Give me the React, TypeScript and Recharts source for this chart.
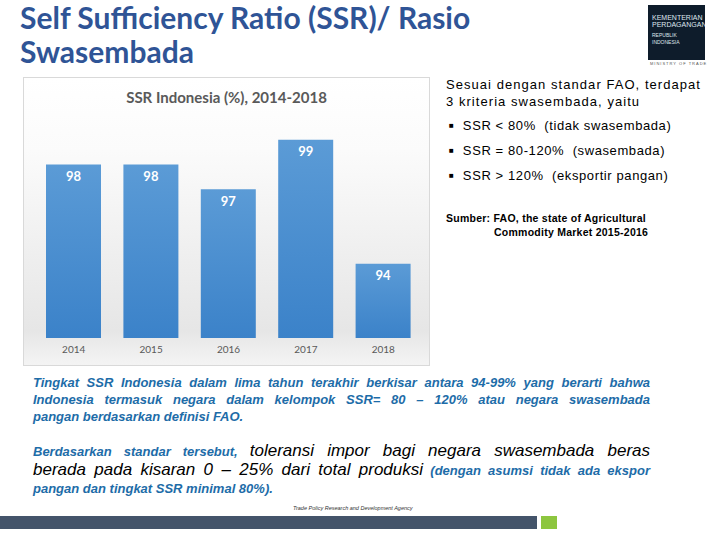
import { BarChart, Bar, XAxis, YAxis, LabelList } from "recharts";

const years = ["2014", "2015", "2016", "2017", "2018"];
const ssrValues = [98, 98, 97, 99, 94];

const criteria = [
  "SSR < 80%  (tidak swasembada)",
  "SSR = 80-120%  (swasembada)",
  "SSR > 120%  (eksportir pangan)",
];

const data = years.map((year, i) => ({ year, ssr: ssrValues[i] }));

const blue = "#1d6ca8";
const arial = "'Liberation Sans', Arial, sans-serif";
const calibri = "Lato, 'Open Sans', sans-serif";

function Line({ children, last, top, size = 13 }: any) {
  return (
    <div
      style={{
        position: "absolute",
        left: 33,
        width: 617,
        top,
        fontSize: size,
        lineHeight: "18px",
        whiteSpace: "nowrap",
        textAlign: "justify",
        textAlignLast: last ? "left" : "justify",
        fontStyle: "italic",
      }}
    >
      {children}
    </div>
  );
}

export default function App() {
  return (
    <div
      style={{
        position: "absolute",
        left: 0,
        top: 0,
        width: 720,
        height: 540,
        background: "#fff",
        overflow: "hidden",
        fontFamily: arial,
      }}
    >
      {/* slide title */}
      <div
        style={{
          position: "absolute",
          left: 20,
          top: 0,
          fontFamily: calibri,
          fontWeight: 700,
          fontSize: 30,
          lineHeight: "34px",
          color: "#2f5496",
        }}
      >
        Self Sufficiency Ratio (SSR)/ Rasio
        <br />
        Swasembada
      </div>

      {/* logo */}
      <div
        style={{
          position: "absolute",
          left: 648,
          top: 5,
          width: 57,
          height: 55,
          background: "#0e1c2b",
          overflow: "hidden",
          color: "#dfe6ee",
          fontSize: 7,
          lineHeight: "7px",
          paddingLeft: 4,
          paddingTop: 9,
          boxSizing: "border-box",
        }}
      >
        <div>KEMENTERIAN</div>
        <div>PERDAGANGAN</div>
        <div style={{ fontSize: 5, marginTop: 4 }}>REPUBLIK INDONESIA</div>
      </div>
      <div
        style={{
          position: "absolute",
          left: 650,
          top: 61,
          fontSize: 4,
          letterSpacing: 1,
          color: "#555",
        }}
      >
        MINISTRY OF TRADE
      </div>

      {/* chart panel */}
      <div
        style={{
          position: "absolute",
          left: 23,
          top: 77,
          width: 405,
          height: 287,
          border: "1px solid #d9d9d9",
          background:
            "linear-gradient(180deg, #ffffff 0%, #fbfbfb 25%, #ececec 70%, #e6e6e6 88%, #f4f4f4 100%)",
        }}
      >
        <div
          style={{
            position: "absolute",
            left: 0,
            width: 405,
            top: 10,
            textAlign: "center",
            fontFamily: calibri,
            fontWeight: 700,
            fontSize: 15,
            color: "#595959",
          }}
        >
          SSR Indonesia (%), 2014-2018
        </div>
        <BarChart
          width={405}
          height={287}
          data={data}
          margin={{ top: 37, right: 7, bottom: 7, left: 11 }}
        >
          <defs>
            <linearGradient id="barGrad" x1="0" y1="0" x2="0" y2="1">
              <stop offset="0%" stopColor="#5b9bd6" />
              <stop offset="100%" stopColor="#3b82c9" />
            </linearGradient>
          </defs>
          <XAxis
            dataKey="year"
            height={20}
            axisLine={false}
            tickLine={false}
            tick={{ fontSize: 10, fill: "#595959", fontFamily: calibri }}
          />
          <YAxis hide domain={[91, 100]} allowDataOverflow />
          <Bar
            dataKey="ssr"
            barSize={55}
            fill="url(#barGrad)"
            isAnimationActive={false}
          >
            <LabelList
              dataKey="ssr"
              position="insideTop"
              offset={7}
              fill="#ffffff"
              fontSize={13}
              fontWeight={700}
              fontFamily={calibri}
            />
          </Bar>
        </BarChart>
      </div>

      {/* criteria text */}
      <div
        style={{
          position: "absolute",
          left: 446,
          top: 76,
          fontSize: 13,
          lineHeight: "17px",
          color: "#000",
          letterSpacing: 1.05,
        }}
      >
        Sesuai dengan standar FAO, terdapat
        <br />3 kriteria swasembada, yaitu
      </div>
      {criteria.map((c, i) => (
        <div
          key={c}
          style={{
            position: "absolute",
            left: 449,
            top: 117 + i * 25,
            fontSize: 13,
            lineHeight: "17px",
            letterSpacing: 0.6,
            whiteSpace: "pre",
          }}
        >
          <span style={{ fontSize: 8, verticalAlign: 2 }}>■</span>
          {"  " + c}
        </div>
      ))}
      <div
        style={{
          position: "absolute",
          left: 446,
          top: 211,
          fontSize: 10.5,
          fontWeight: 700,
          lineHeight: "14px",
          letterSpacing: 0.25,
        }}
      >
        Sumber: FAO, the state of Agricultural
        <br />
        <span style={{ marginLeft: 48 }}>Commodity Market 2015-2016</span>
      </div>

      {/* bottom paragraphs */}
      <div style={{ color: blue, fontWeight: 700 }}>
        <Line top={374}>
          Tingkat SSR Indonesia dalam lima tahun terakhir berkisar antara 94-99% yang berarti bahwa
        </Line>
        <Line top={391}>
          Indonesia termasuk negara dalam kelompok SSR= 80 – 120% atau negara swasembada
        </Line>
        <Line top={408} last>
          pangan berdasarkan definisi FAO.
        </Line>
      </div>
      <Line top={442}>
        <span style={{ color: blue, fontWeight: 700, fontSize: 13 }}>
          Berdasarkan standar tersebut,
        </span>{" "}
        <span style={{ fontSize: 17 }}>toleransi impor bagi negara swasembada beras</span>
      </Line>
      <Line top={461}>
        <span style={{ fontSize: 17 }}>berada pada kisaran 0 – 25% dari total produksi</span>{" "}
        <span style={{ color: blue, fontWeight: 700, fontSize: 13 }}>
          (dengan asumsi tidak ada ekspor
        </span>
      </Line>
      <Line top={480} last>
        <span style={{ color: blue, fontWeight: 700 }}>
          pangan dan tingkat SSR minimal 80%).
        </span>
      </Line>

      {/* footer */}
      <div
        style={{
          position: "absolute",
          left: 293,
          top: 505,
          fontSize: 5.5,
          fontStyle: "italic",
          color: "#333",
        }}
      >
        Trade Policy Research and Development Agency
      </div>
      <div
        style={{
          position: "absolute",
          left: 0,
          top: 516,
          width: 537,
          height: 13,
          background: "#44546a",
        }}
      />
      <div
        style={{
          position: "absolute",
          left: 541,
          top: 516,
          width: 16,
          height: 13,
          background: "#8dc63f",
        }}
      />
    </div>
  );
}
